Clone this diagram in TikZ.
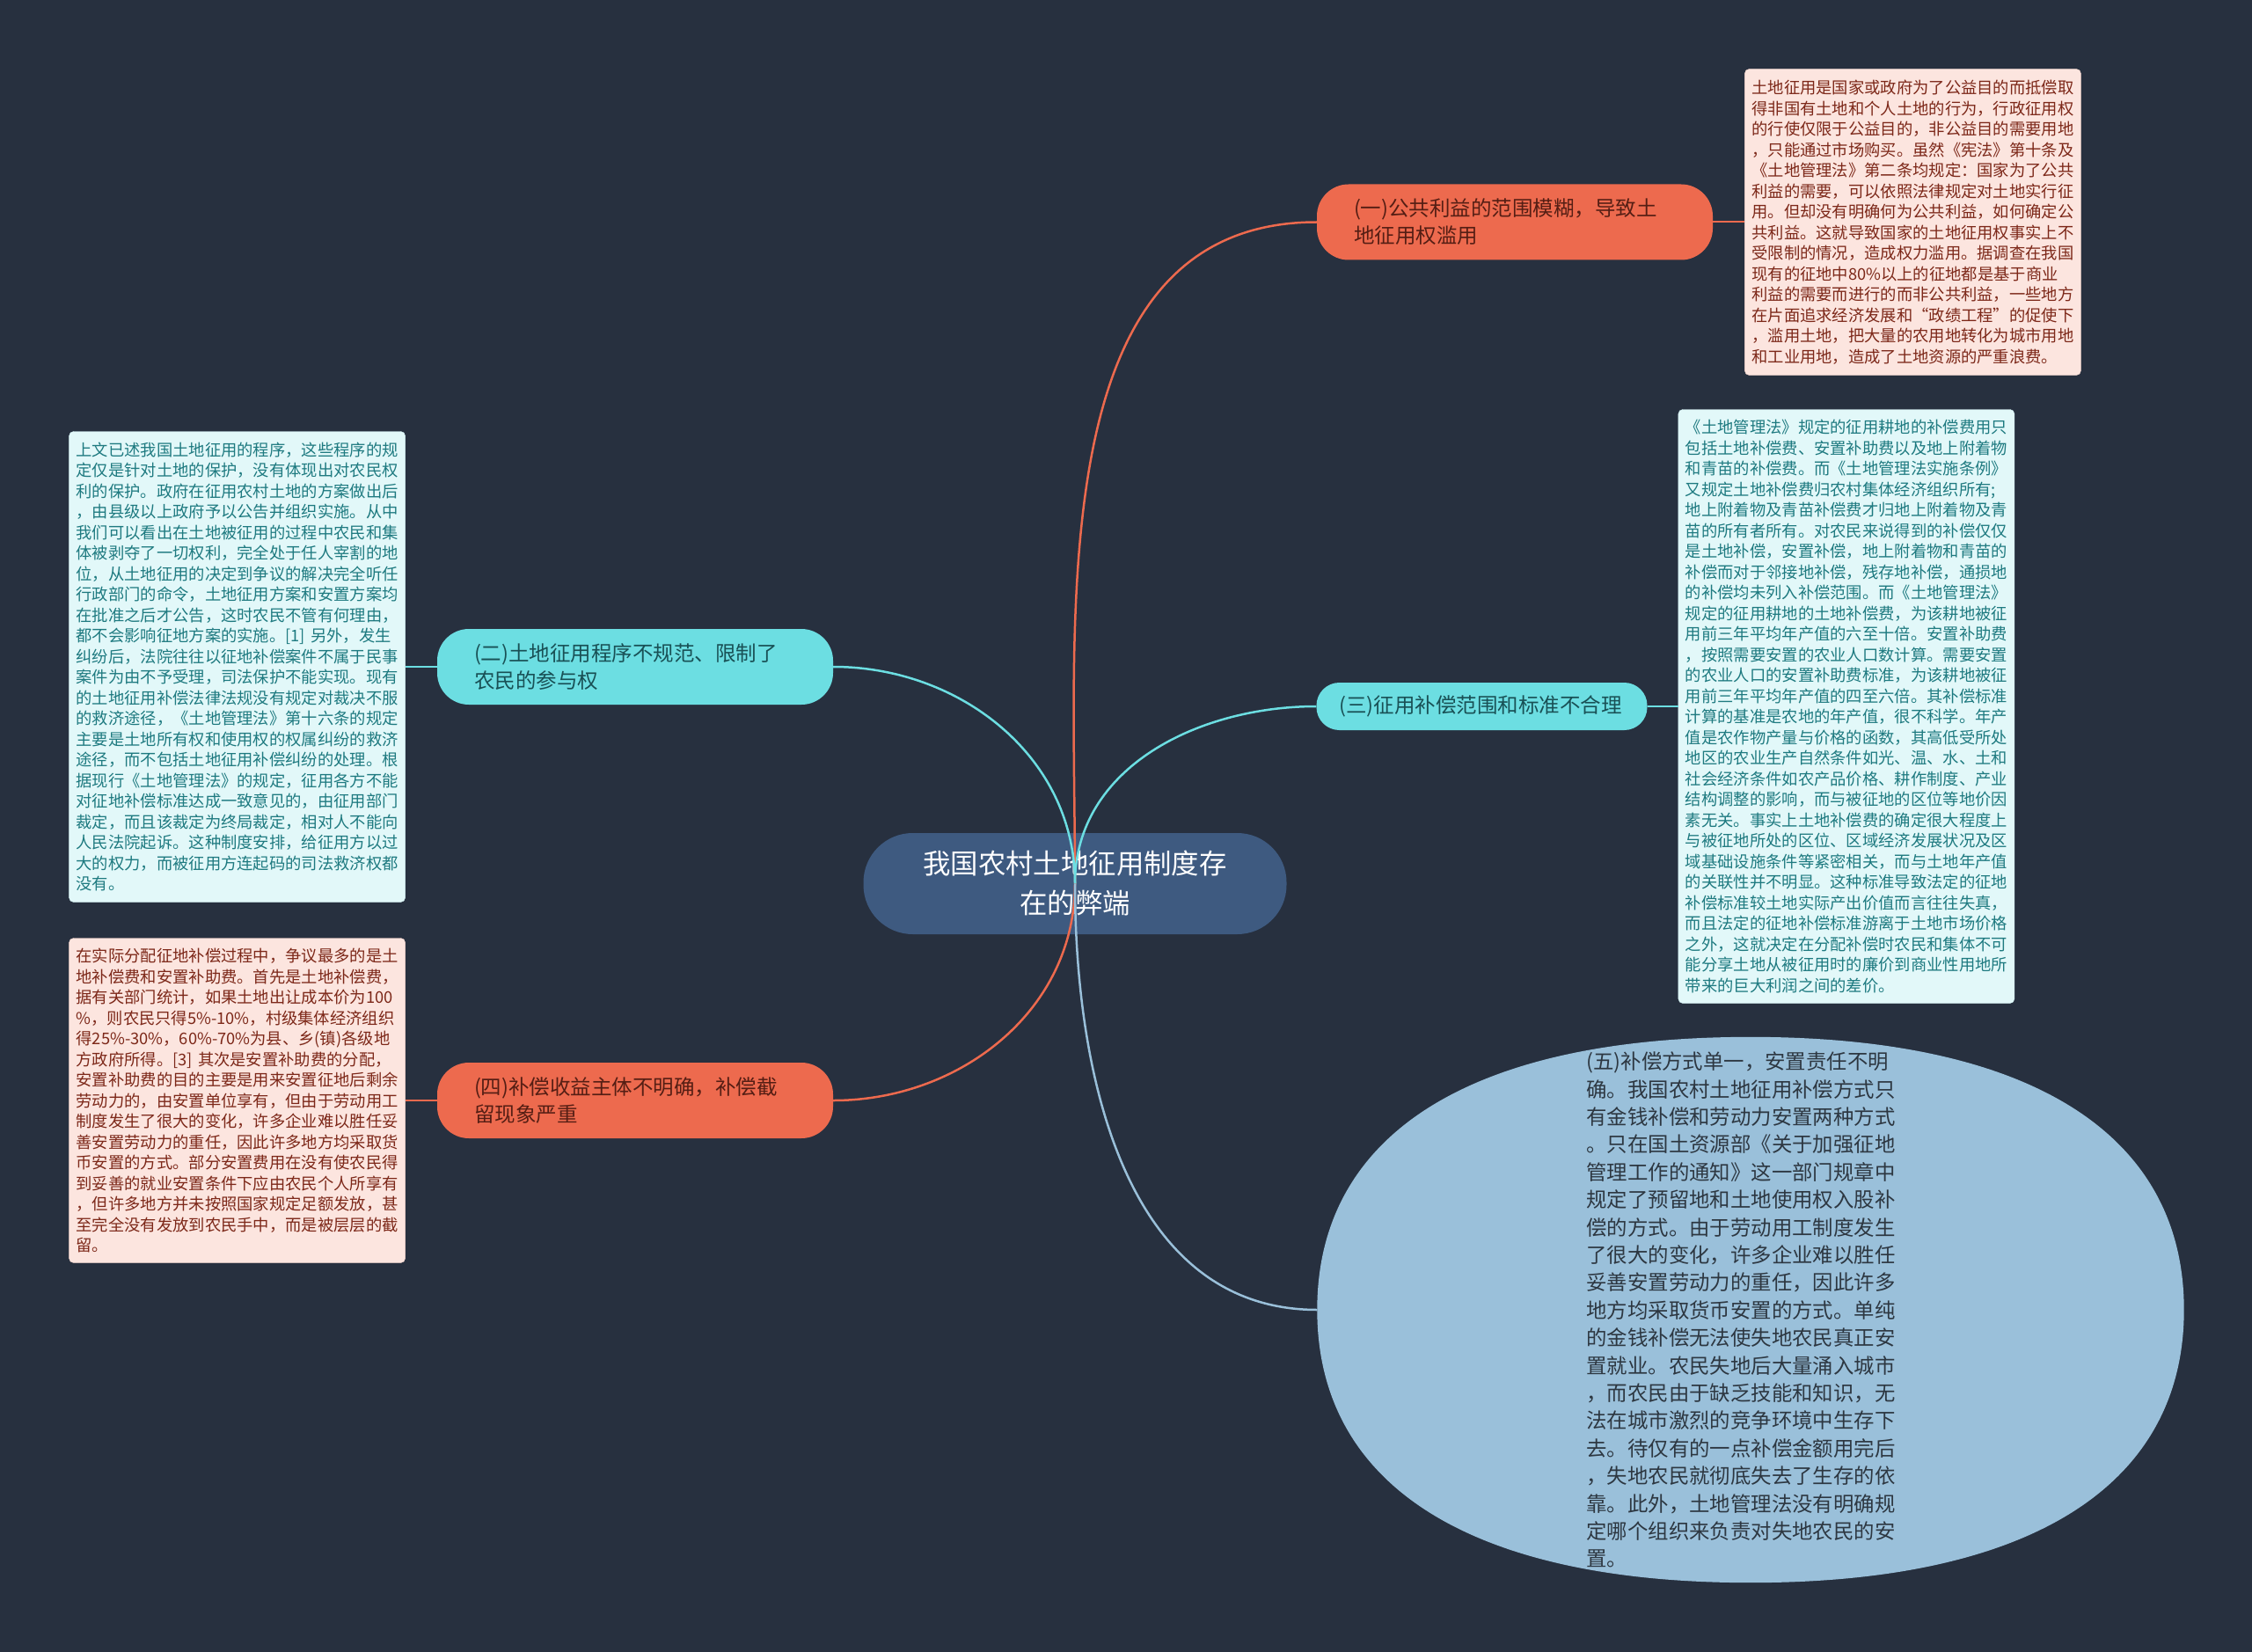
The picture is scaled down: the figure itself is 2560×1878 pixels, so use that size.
\documentclass[tikz,border=0pt]{standalone}
\usepackage{fontspec}
\setmainfont{Noto Sans CJK SC}
\usetikzlibrary{positioning, shapes.geometric, calc}

\definecolor{bgdark}{RGB}{39,48,63}
\definecolor{rootblue}{RGB}{62,90,128}
\definecolor{coral}{RGB}{237,106,78}
\definecolor{aqua}{RGB}{108,222,226}
\definecolor{skyblue}{RGB}{154,192,218}
\definecolor{pinkleaf}{RGB}{252,229,223}
\definecolor{aqualeaf}{RGB}{226,248,249}
\definecolor{pinktext}{RGB}{125,40,25}
\definecolor{aquatext}{RGB}{30,122,128}
\definecolor{coraltext}{RGB}{85,30,20}
\definecolor{aquadark}{RGB}{25,80,85}
\definecolor{skytext}{RGB}{45,55,65}

\begin{document}
\begin{tikzpicture}[x=1pt, y=-1pt,
    root/.style={rectangle, rounded corners=56pt, fill=rootblue, text=white, minimum width=481pt, minimum height=115pt, align=center, font=\fontsize{31.4}{45}\selectfont},
    branch/.style={rectangle, rounded corners=36pt, minimum height=86pt, text width=366pt, inner xsep=42pt, align=left, font=\fontsize{23.5}{31}\selectfont},
    hot/.style={branch, fill=coral, text=coraltext},
    cool/.style={branch, fill=aqua, text=aquadark},
    leaf/.style={rectangle, rounded corners=5pt, text width=366pt, inner xsep=8pt, inner ysep=10pt, align=left, font=\fontsize{18.3}{23.5}\selectfont},
    hot_leaf/.style={leaf, fill=pinkleaf, draw=pinkleaf!90!coral, text=pinktext},
    cool_leaf/.style={leaf, fill=aqualeaf, draw=aqualeaf!90!aqua, text=aquatext},
    bubble/.style={ellipse, minimum width=985pt, minimum height=620pt, inner sep=0pt},
    bubble_text/.style={text=skytext, align=left, font=\fontsize{23.4}{31.4}\selectfont},
    link/.style={line width=2.5pt},
    twig/.style={line width=2pt}
]
    % Spacing constants
    \def\gap{36pt}
    \def\ka{318}
    \def\kb{200}

    % Canvas
    \fill[bgdark] (0,0) rectangle (2560,1878);
    \useasboundingbox (0,0) rectangle (2560,1878);

    % Nodes
    \node[root] (root) at (1222,1004.5) {我国农村土地征用制度存\\在的弊端};

    \node[hot] (b1) at (1722,252.5) {(一)公共利益的范围模糊，导致土\\地征用权滥用};
    \node[cool] (b2) at (722,758) {(二)土地征用程序不规范、限制了\\农民的参与权};
    \node[cool, minimum height=54pt, text width=324pt, inner xsep=26pt, rounded corners=26pt] (b3) at (1684.5,803) {(三)征用补偿范围和标准不合理};
    \node[hot] (b4) at (722,1251) {(四)补偿收益主体不明确，补偿截\\留现象严重};

    % Bubble for the fifth point (a full oval)
    \node[bubble] (b5) at (1990,1489) {};
    \fill[skyblue] (b5.west)
        .. controls ($(b5.west)+(0,-\kb)$) and ($(b5.north)+(-\ka,0)$) .. (b5.north)
        .. controls ($(b5.north)+(\ka,0)$) and ($(b5.east)+(0,-\kb)$) .. (b5.east)
        .. controls ($(b5.east)+(0,\kb)$) and ($(b5.south)+(\ka,0)$) .. (b5.south)
        .. controls ($(b5.south)+(-\ka,0)$) and ($(b5.west)+(0,\kb)$) .. (b5.west) -- cycle;

    % Details
    \node[hot_leaf, right=\gap of b1, minimum height=348pt] (l1) {土地征用是国家或政府为了公益目的而抵偿取\\得非国有土地和个人土地的行为，行政征用权\\的行使仅限于公益目的，非公益目的需要用地\\，只能通过市场购买。虽然《宪法》第十条及\\《土地管理法》第二条均规定：国家为了公共\\利益的需要，可以依照法律规定对土地实行征\\用。但却没有明确何为公共利益，如何确定公\\共利益。这就导致国家的土地征用权事实上不\\受限制的情况，造成权力滥用。据调查在我国\\现有的征地中80\%以上的征地都是基于商业\\利益的需要而进行的而非公共利益，一些地方\\在片面追求经济发展和“政绩工程”的促使下\\，滥用土地，把大量的农用地转化为城市用地\\和工业用地，造成了土地资源的严重浪费。};

    \node[cool_leaf, left=\gap of b2, minimum height=535pt] (l2) {上文已述我国土地征用的程序，这些程序的规\\定仅是针对土地的保护，没有体现出对农民权\\利的保护。政府在征用农村土地的方案做出后\\，由县级以上政府予以公告并组织实施。从中\\我们可以看出在土地被征用的过程中农民和集\\体被剥夺了一切权利，完全处于任人宰割的地\\位，从土地征用的决定到争议的解决完全听任\\行政部门的命令，土地征用方案和安置方案均\\在批准之后才公告，这时农民不管有何理由，\\都不会影响征地方案的实施。[1] 另外，发生\\纠纷后，法院往往以征地补偿案件不属于民事\\案件为由不予受理，司法保护不能实现。现有\\的土地征用补偿法律法规没有规定对裁决不服\\的救济途径，《土地管理法》第十六条的规定\\主要是土地所有权和使用权的权属纠纷的救济\\途径，而不包括土地征用补偿纠纷的处理。根\\据现行《土地管理法》的规定，征用各方不能\\对征地补偿标准达成一致意见的，由征用部门\\裁定，而且该裁定为终局裁定，相对人不能向\\人民法院起诉。这种制度安排，给征用方以过\\大的权力，而被征用方连起码的司法救济权都\\没有。};

    \node[cool_leaf, right=35pt of b3, minimum height=675pt] (l3) {《土地管理法》规定的征用耕地的补偿费用只\\包括土地补偿费、安置补助费以及地上附着物\\和青苗的补偿费。而《土地管理法实施条例》\\又规定土地补偿费归农村集体经济组织所有;\\地上附着物及青苗补偿费才归地上附着物及青\\苗的所有者所有。对农民来说得到的补偿仅仅\\是土地补偿，安置补偿，地上附着物和青苗的\\补偿而对于邻接地补偿，残存地补偿，通损地\\的补偿均未列入补偿范围。而《土地管理法》\\规定的征用耕地的土地补偿费，为该耕地被征\\用前三年平均年产值的六至十倍。安置补助费\\，按照需要安置的农业人口数计算。需要安置\\的农业人口的安置补助费标准，为该耕地被征\\用前三年平均年产值的四至六倍。其补偿标准\\计算的基准是农地的年产值，很不科学。年产\\值是农作物产量与价格的函数，其高低受所处\\地区的农业生产自然条件如光、温、水、土和\\社会经济条件如农产品价格、耕作制度、产业\\结构调整的影响，而与被征地的区位等地价因\\素无关。事实上土地补偿费的确定很大程度上\\与被征地所处的区位、区域经济发展状况及区\\域基础设施条件等紧密相关，而与土地年产值\\的关联性并不明显。这种标准导致法定的征地\\补偿标准较土地实际产出价值而言往往失真，\\而且法定的征地补偿标准游离于土地市场价格\\之外，这就决定在分配补偿时农民和集体不可\\能分享土地从被征用时的廉价到商业性用地所\\带来的巨大利润之间的差价。};

    \node[hot_leaf, left=\gap of b4, minimum height=369pt] (l4) {在实际分配征地补偿过程中，争议最多的是土\\地补偿费和安置补助费。首先是土地补偿费，\\据有关部门统计，如果土地出让成本价为100\\\%，则农民只得5\%-10\%，村级集体经济组织\\得25\%-30\%，60\%-70\%为县、乡(镇)各级地\\方政府所得。[3] 其次是安置补助费的分配，\\安置补助费的目的主要是用来安置征地后剩余\\劳动力的，由安置单位享有，但由于劳动用工\\制度发生了很大的变化，许多企业难以胜任妥\\善安置劳动力的重任，因此许多地方均采取货\\币安置的方式。部分安置费用在没有使农民得\\到妥善的就业安置条件下应由农民个人所享有\\，但许多地方并未按照国家规定足额发放，甚\\至完全没有发放到农民手中，而是被层层的截\\留。};

    \node[bubble_text] (b5text) at ($(b5.center)+(-11,0)$) {(五)补偿方式单一，安置责任不明\\确。我国农村土地征用补偿方式只\\有金钱补偿和劳动力安置两种方式\\。只在国土资源部《关于加强征地\\管理工作的通知》这一部门规章中\\规定了预留地和土地使用权入股补\\偿的方式。由于劳动用工制度发生\\了很大的变化，许多企业难以胜任\\妥善安置劳动力的重任，因此许多\\地方均采取货币安置的方式。单纯\\的金钱补偿无法使失地农民真正安\\置就业。农民失地后大量涌入城市\\，而农民由于缺乏技能和知识，无\\法在城市激烈的竞争环境中生存下\\去。待仅有的一点补偿金额用完后\\，失地农民就彻底失去了生存的依\\靠。此外，土地管理法没有明确规\\定哪个组织来负责对失地农民的安\\置。};

    % Links from the root
    \draw[link, coral] (root.center) to[out=90, in=180] (b1.west);
    \draw[link, aqua] (root.center) to[out=90, in=0] (b2.east);
    \draw[link, aqua] (root.center) to[out=90, in=180] (b3.west);
    \draw[link, coral] (root.center) to[out=-90, in=0] (b4.east);
    \draw[link, skyblue] (root.center) to[out=-90, in=180] (b5.west);

    % Links to the details
    \draw[twig, coral] (b1.east) -- (l1.west);
    \draw[twig, aqua] (b2.west) -- (l2.east);
    \draw[twig, aqua] (b3.east) -- (l3.west);
    \draw[twig, coral] (b4.west) -- (l4.east);

\end{tikzpicture}
\end{document}
